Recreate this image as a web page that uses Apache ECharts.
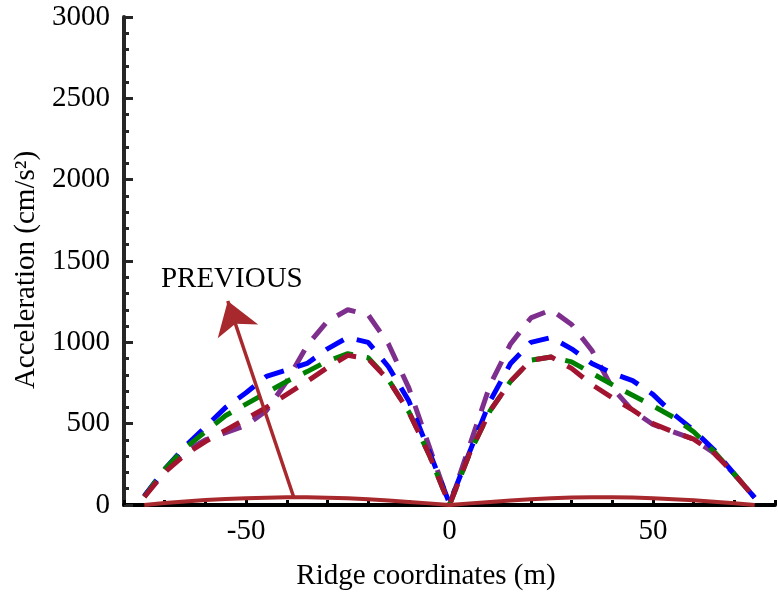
<!DOCTYPE html>
<html>
<head>
<meta charset="utf-8">
<script src="https://cdn.jsdelivr.net/npm/echarts@6/dist/echarts.min.js"></script>
<style>
html, body { margin: 0; padding: 0; background: #fff; }
#chart { width: 778px; height: 596px; }
</style>
</head>
<body>
<div id="chart"></div>
<script>
// Ridge coordinates (m) shared by every response curve
const ridgeX = [-75, -70, -65, -60, -55, -50, -45, -40, -35, -30, -25, -20, -15, -10, -5, 0,
                5, 10, 15, 20, 25, 30, 35, 40, 45, 50, 55, 60, 65, 70, 75];

// Peak accelerations along the ridge (cm/s^2)
const accPurple = [55, 210, 330, 400, 445, 490, 580, 760, 980, 1130, 1200, 1170, 990, 720, 360, 0,
                   370, 740, 990, 1150, 1200, 1110, 950, 720, 580, 495, 450, 405, 320, 190, 45];
const accBlue   = [55, 220, 360, 480, 600, 690, 790, 830, 870, 960, 1030, 1000, 850, 640, 330, 10,
                   330, 640, 870, 1000, 1030, 960, 870, 810, 765, 680, 560, 460, 340, 190, 45];
const accGreen  = [50, 220, 350, 450, 550, 620, 690, 760, 820, 885, 930, 905, 770, 573, 310, 0,
                   320, 580, 760, 890, 910, 880, 810, 740, 675, 610, 540, 450, 330, 190, 45];
const accRed    = [50, 200, 310, 390, 460, 530, 600, 680, 760, 845, 920, 900, 768, 573, 310, 0,
                   320, 580, 760, 890, 910, 840, 740, 660, 585, 500, 450, 405, 320, 190, 45];
const accPrevious = [0, 12, 22, 30, 37, 42, 45, 47, 47, 45, 41, 35, 28, 19, 10, 0,
                     10, 19, 28, 36, 42, 46, 48, 48, 46, 42, 36, 29, 20, 11, 0];

// Arrow pointing from the previous curve to its label
const arrowFrom = [-38.3, 49];
const arrowTo = [-54.5, 1254];
const labelAt = [-53.5, 1390];
const labelText = 'PREVIOUS';

const xTickValues = [-50, 0, 50];

const FONT = 'Liberation Serif';
const pair = ys => ridgeX.map((x, i) => [x, ys[i]]);

function dashed(name, color, ys) {
  return {
    name: name,
    type: 'line',
    data: pair(ys),
    showSymbol: false,
    symbol: 'none',
    lineStyle: { color: color, width: 5, type: [20, 14], cap: 'butt' },
    silent: true
  };
}

const chart = echarts.init(document.getElementById('chart'), null, { renderer: 'canvas' });

chart.setOption({
  animation: false,
  backgroundColor: '#ffffff',
  grid: { left: 124, top: 17, width: 661, height: 488, containLabel: false },
  xAxis: {
    type: 'value',
    min: -80,
    max: 80,
    interval: 10,
    name: 'Ridge coordinates (m)',
    nameLocation: 'middle',
    nameGap: 57,
    nameTextStyle: { fontFamily: FONT, fontSize: 29, color: '#000', padding: [0, 47, 0, 0] },
    axisLine: { show: true, lineStyle: { color: '#000', width: 4 } },
    axisTick: { show: true, inside: true, length: 5, lineStyle: { color: '#000', width: 3 } },
    axisLabel: {
      fontFamily: FONT, fontSize: 29, color: '#000', margin: 12,
      formatter: v => (xTickValues.indexOf(v) >= 0 ? String(v) : '')
    },
    splitLine: { show: false }
  },
  yAxis: {
    type: 'value',
    min: 0,
    max: 3000,
    interval: 500,
    name: 'Acceleration (cm/s²)',
    nameLocation: 'middle',
    nameGap: 76,
    nameRotate: 90,
    nameTextStyle: { fontFamily: FONT, fontSize: 29, color: '#000', padding: [0, 18, 0, 0] },
    axisLine: { show: true, onZero: false, lineStyle: { color: '#262626', width: 4 } },
    axisTick: { show: true, inside: true, length: 9, lineStyle: { color: '#262626', width: 3 } },
    minorTick: { show: true, splitNumber: 5, length: 5, lineStyle: { color: '#262626', width: 3 } },
    axisLabel: { fontFamily: FONT, fontSize: 29, color: '#000', margin: 14, formatter: v => String(v) },
    splitLine: { show: false },
    minorSplitLine: { show: false }
  },
  series: [
    dashed('Case 4', '#7e2f8e', accPurple),
    dashed('Case 3', '#0000ff', accBlue),
    dashed('Case 2', '#008000', accGreen),
    dashed('Case 1', '#a2142f', accRed),
    {
      name: 'Previous',
      type: 'line',
      data: pair(accPrevious),
      showSymbol: false,
      symbol: 'none',
      lineStyle: { color: '#a8292d', width: 4 },
      silent: true,
      markLine: {
        silent: true,
        symbol: ['none', 'arrow'],
        symbolSize: 32,
        label: { show: false },
        lineStyle: { color: '#a8292d', width: 3.5, type: 'solid' },
        emphasis: { disabled: true },
        data: [[{ coord: arrowFrom }, { coord: arrowTo }]]
      },
      markPoint: {
        silent: true,
        symbol: 'circle',
        symbolSize: 0,
        itemStyle: { color: 'rgba(0,0,0,0)' },
        label: {
          show: true, position: 'inside', formatter: labelText,
          fontFamily: FONT, fontSize: 29, color: '#000'
        },
        data: [{ coord: labelAt }]
      }
    }
  ]
});
</script>
</body>
</html>
